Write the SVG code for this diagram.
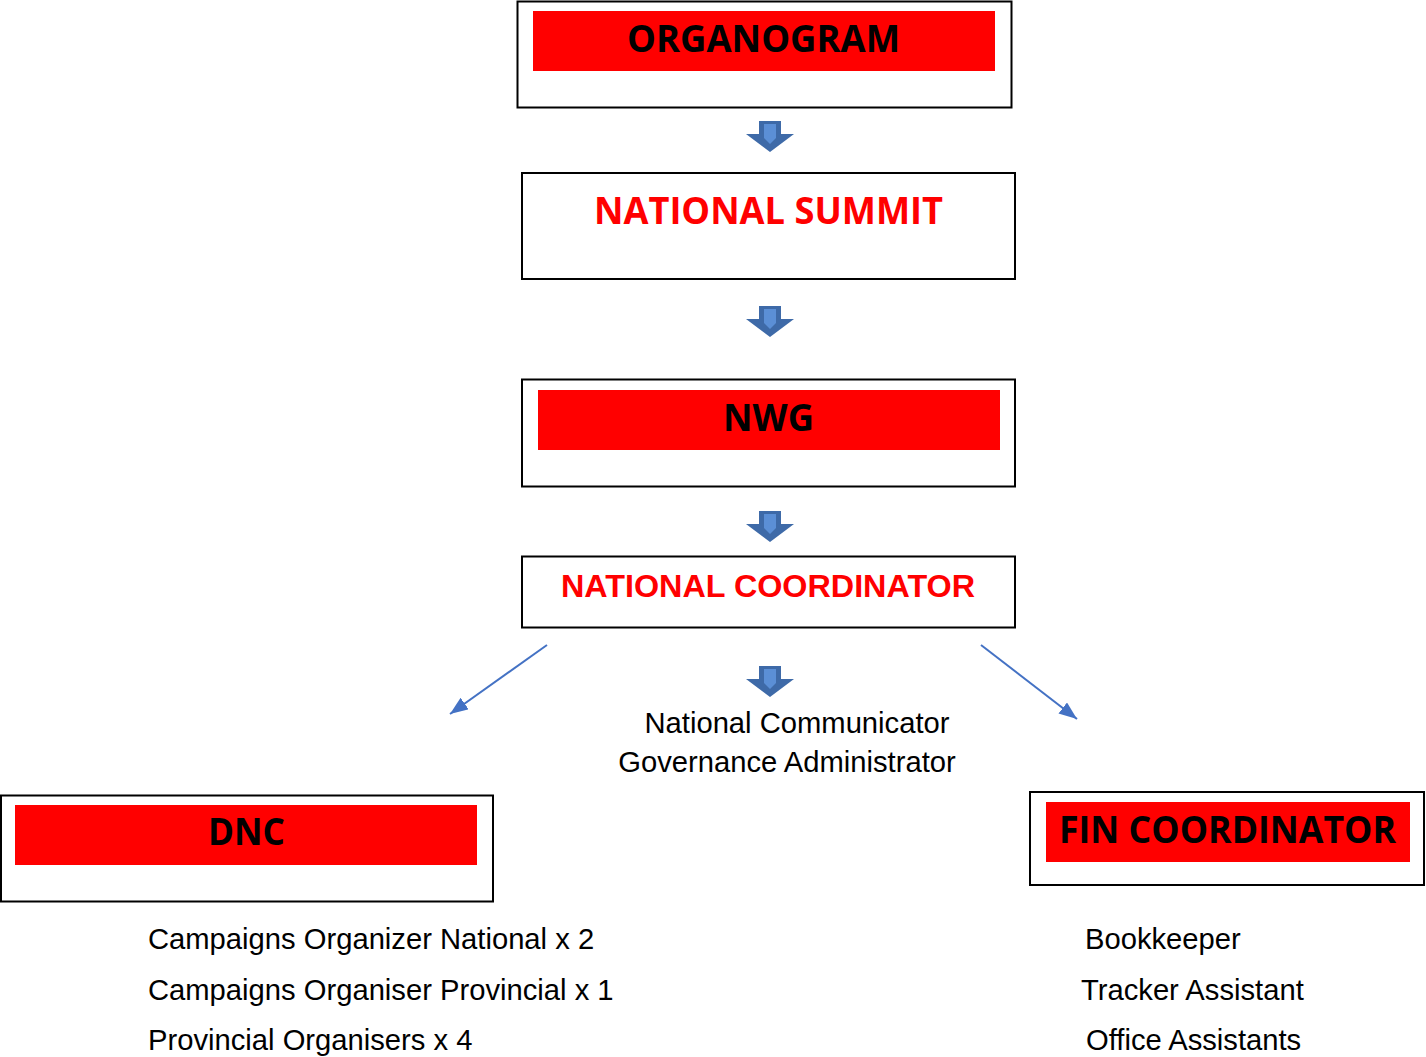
<svg xmlns="http://www.w3.org/2000/svg" width="1426" height="1057" viewBox="0 0 1426 1057">
<style>
.box{fill:#fff;stroke:#000;stroke-width:2}
.band{fill:#ff0000}
.title{font-family:"Open Sans","Liberation Sans",sans-serif;font-weight:bold;font-size:38px;text-anchor:middle}
.blk{fill:#000}
.red{fill:#ff0000}
.nc{font-family:"Liberation Sans",Arial,sans-serif;font-weight:bold;font-size:32px;text-anchor:middle;fill:#ff0000}
.body{font-family:"Liberation Sans",Arial,sans-serif;font-size:29.2px;fill:#000}
.conn{stroke:#4472c4;stroke-width:2;fill:none}
</style>
<defs>
<marker id="ah" markerUnits="userSpaceOnUse" markerWidth="20" markerHeight="16" refX="18" refY="7" orient="auto">
<path d="M0,0 L18,7 L0,14 Z" fill="#4472c4"/>
</marker>
<g id="blockArrow">
<polygon points="-11,0 11,0 11,13 24,13 0,31 -24,13 -11,13" fill="#3e6aa8"/>
<polygon points="-6,3 6,3 6,17 0,23 -6,17" fill="#5b8fd6"/>
</g>
</defs>

<g id="organogram">
<rect class="box" x="517.5" y="1.5" width="494" height="106"/>
<rect class="band" x="533" y="11" width="462" height="60"/>
<text class="title blk" x="763.5" y="52" textLength="273" lengthAdjust="spacingAndGlyphs">ORGANOGRAM</text>
</g>

<g id="national-summit">
<rect class="box" x="522" y="173" width="493" height="106"/>
<text class="title red" x="768.5" y="224" textLength="349" lengthAdjust="spacingAndGlyphs">NATIONAL SUMMIT</text>
</g>

<g id="nwg">
<rect class="box" x="522" y="379.5" width="493" height="107"/>
<rect class="band" x="538" y="390" width="462" height="60"/>
<text class="title blk" x="768.5" y="431" textLength="91" lengthAdjust="spacingAndGlyphs">NWG</text>
</g>

<g id="national-coordinator">
<rect class="box" x="522" y="556.5" width="493" height="71"/>
<text class="nc" x="768" y="597" textLength="414" lengthAdjust="spacingAndGlyphs">NATIONAL COORDINATOR</text>
</g>

<g id="national-staff">
<text class="body" x="797" y="733" text-anchor="middle">National Communicator</text>
<text class="body" x="787" y="772" text-anchor="middle">Governance Administrator</text>
</g>

<g id="dnc">
<rect class="box" x="1" y="795.5" width="492" height="106"/>
<rect class="band" x="15" y="805" width="462" height="60"/>
<text class="title blk" x="246.5" y="845" textLength="77" lengthAdjust="spacingAndGlyphs">DNC</text>
</g>

<g id="dnc-staff">
<text class="body" x="148" y="949">Campaigns Organizer National x 2</text>
<text class="body" x="148" y="1000">Campaigns Organiser Provincial x 1</text>
<text class="body" x="148" y="1050">Provincial Organisers x 4</text>
</g>

<g id="fin-coordinator">
<rect class="box" x="1030" y="792" width="394" height="93"/>
<rect class="band" x="1046" y="802" width="364" height="60"/>
<text class="title blk" x="1227.5" y="843" textLength="337" lengthAdjust="spacingAndGlyphs">FIN COORDINATOR</text>
</g>

<g id="fin-staff">
<text class="body" x="1085" y="949">Bookkeeper</text>
<text class="body" x="1081" y="1000">Tracker Assistant</text>
<text class="body" x="1086" y="1050">Office Assistants</text>
</g>

<g id="connectors">
<use href="#blockArrow" x="770" y="121"/>
<use href="#blockArrow" x="770" y="306"/>
<use href="#blockArrow" x="770" y="511"/>
<use href="#blockArrow" x="770" y="666"/>
<line class="conn" x1="547" y1="645" x2="450" y2="714" marker-end="url(#ah)"/>
<line class="conn" x1="981" y1="645" x2="1077" y2="719" marker-end="url(#ah)"/>
</g>
</svg>
